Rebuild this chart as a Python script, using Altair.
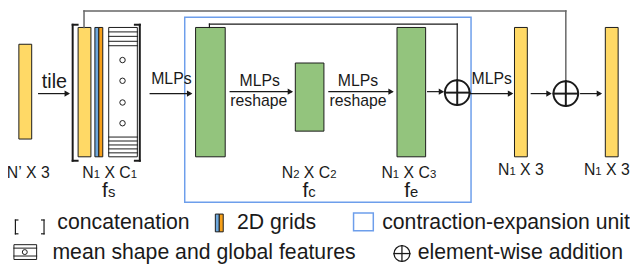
import altair as alt
import pandas as pd

FONT = "Liberation Sans"
YELLOW = "#FFD966"
GREEN = "#93C47D"
BLUE = "#6FA8DC"
ORANGE = "#F6A01A"
BOX = "#6D9EEB"
INK = "#1a1a1a"
GRAY = "#666666"

# ---------------- blocks (filled rectangles) ----------------
block_x0 = [19, 79, 96, 100, 110, 198, 299, 402, 521, 613, 218, 222, 14, 187, 358]
block_x1 = [32, 92, 100, 104, 139, 228, 328, 431, 534, 626, 222, 226, 37, 477, 378]
block_y0 = [43, 26, 26, 26, 26, 26, 62, 26, 26, 26, 215, 215, 246, 11, 214]
block_y1 = [139, 157, 157, 157, 157, 157, 131, 157, 157, 157, 233, 233, 261, 203, 232]
block_fill = [YELLOW, YELLOW, BLUE, ORANGE, "white", GREEN, GREEN, GREEN, YELLOW, YELLOW,
              BLUE, ORANGE, "white", "transparent", "white"]
block_stroke = [INK] * 13 + [BOX, BOX]
block_sw = [1] * 13 + [1.5, 1.5]

# ---------------- line segments ----------------
seg = []  # (x0, y0, x1, y1, color, width)
for yy in [30.5, 35, 40, 44.5]:
    seg.append((110, yy, 139, yy, INK, 1))
for yy in [137, 141, 145, 149, 153]:
    seg.append((110, yy, 139, yy, INK, 1))
# brackets
seg += [(73.5, 22, 73.5, 161, INK, 2), (73.5, 22, 78.5, 22, INK, 2), (73.5, 161, 78.5, 161, INK, 2),
        (141.5, 22, 141.5, 161, INK, 2), (136.5, 22, 141.5, 22, INK, 2), (136.5, 161, 141.5, 161, INK, 2)]
# arrow shafts
arrow_x0 = [39, 152, 233, 333, 433, 476, 538, 588]
arrow_x1 = [71, 195, 297, 399, 450, 520, 559, 610]
arrow_y = [93, 93, 91, 91, 91, 93, 93, 93]
for a, b, c in zip(arrow_x0, arrow_x1, arrow_y):
    seg.append((a, c, b - 2, c, INK, 1.2))
# skip connections
seg += [(212, 26, 212, 21, INK, 1.2), (212, 21, 463, 21, INK, 1.2), (463, 21, 463, 79.5, INK, 1.2)]
seg += [(85, 26, 85, 2, GRAY, 1.5), (85, 2, 573, 2, GRAY, 1.5), (573, 2, 573, 80.5, GRAY, 1.5)]
# plus signs inside circles
plus_cx = [463, 573, 407]
plus_cy = [92, 93, 255]
plus_r = [12.5, 12.5, 8]
for cx, cy, r in zip(plus_cx, plus_cy, plus_r):
    w = 2 if r > 10 else 1.3
    seg.append((cx - r, cy, cx + r, cy, INK, w))
    seg.append((cx, cy - r, cx, cy + r, INK, w))
# legend mean-shape icon lines
seg += [(14, 249.5, 37, 249.5, INK, 1), (14, 257.5, 37, 257.5, INK, 1)]
# legend parentheses
seg += [(15.5, 221, 15.5, 235, INK, 1.2), (15.5, 221, 18, 221, INK, 1.2), (15.5, 235, 18, 235, INK, 1.2),
        (44.5, 221, 44.5, 235, INK, 1.2), (42, 221, 44.5, 221, INK, 1.2), (42, 235, 44.5, 235, INK, 1.2)]

# ---------------- circles ----------------
circ_x = [124, 124, 124, 124, 25] + plus_cx
circ_y = [59, 80, 102, 123, 253.5] + plus_cy
circ_d = [5.5, 5.5, 5.5, 5.5, 5] + [2 * r for r in plus_r]
circ_w = [1, 1, 1, 1, 1, 2, 2, 1.3]

# ---------------- texts ----------------
W = {"t": 278, "i": 222, "l": 222, "e": 556, "M": 833, "L": 556, "P": 667, "s": 500, "r": 333,
     "h": 556, "a": 556, "p": 556, "N": 722, "X": 667, "C": 722, " ": 278, "1": 556, "2": 556,
     "3": 556, "’": 222, "f": 278, "c": 500}


def width(t, size):
    return sum(W.get(ch, 556) for ch in t) * size / 1000.0


BIG, SUB = 16, 11.5
labels = [
    ([("tile", 20)], 55, 87),
    ([("MLPs", 16)], 173.5, 83),
    ([("MLPs", 16)], 263, 85),
    ([("reshape", 16)], 262, 106),
    ([("MLPs", 16)], 362.5, 85),
    ([("reshape", 16)], 362.5, 106),
    ([("MLPs", 16)], 498, 83),
    ([("N’", BIG), (" X", BIG), (" 3", BIG)], 28.5, 178),
    ([("N", BIG), ("1", SUB), (" X", BIG), (" C", BIG), ("1", SUB)], 111, 178),
    ([("f", 21), ("s", 15)], 110, 198),
    ([("N", BIG), ("2", SUB), (" X", BIG), (" C", BIG), ("2", SUB)], 313, 178),
    ([("f", 21), ("c", 15)], 313, 198),
    ([("N", BIG), ("1", SUB), (" X", BIG), (" C", BIG), ("3", SUB)], 414, 178),
    ([("f", 21), ("e", 15)], 416.5, 198),
    ([("N", BIG), ("1", SUB), (" X", BIG), (" 3", BIG)], 527.5, 175),
    ([("N", BIG), ("1", SUB), (" X", BIG), (" 3", BIG)], 614.5, 175),
]
LEG = 21.5
legend_text = ["concatenation", "2D grids", "contraction-expansion unit",
               "mean shape and global features", "element-wise addition"]
legend_x = [58, 240, 387, 53, 423]
legend_y = [230.5, 230.5, 230.5, 261, 261]

txt_rows = []
for pieces, cx, by in labels:
    total = sum(width(t, s) for t, s in pieces)
    x = cx - total / 2
    for t, s in pieces:
        lead = len(t) - len(t.lstrip(" "))
        x += width(" " * lead, s)
        core = t.strip(" ")
        txt_rows.append({"x": x, "y": by, "text": core, "size": s})
        x += width(core, s)
for t, x, y in zip(legend_text, legend_x, legend_y):
    txt_rows.append({"x": x, "y": y, "text": t, "size": LEG})

# ---------------- data frames ----------------
rects = pd.DataFrame({"x": block_x0, "x2": block_x1, "y": block_y0, "y2": block_y1,
                      "fill": block_fill, "stroke": block_stroke, "sw": block_sw})
segs = pd.DataFrame(seg, columns=["x", "y", "x2", "y2", "color", "sw"])
circs = pd.DataFrame({"x": circ_x, "y": circ_y, "size": [d * d for d in circ_d], "sw": circ_w})
heads = pd.DataFrame({"x": [b - 3 for b in arrow_x1], "y": arrow_y})
texts = pd.DataFrame(txt_rows)

xs = alt.Scale(domain=[8, 638], range=[0, 630], zero=False, nice=False)
ys = alt.Scale(domain=[0, 26, 275], range=[0, 18, 267], zero=False, nice=False)


def X(f="x"):
    return alt.X(f + ":Q", scale=xs, axis=None)


def Y(f="y"):
    return alt.Y(f + ":Q", scale=ys, axis=None)


rect_layer = alt.Chart(rects).mark_rect().encode(
    x=X(), x2="x2", y=Y(), y2="y2",
    fill=alt.Fill("fill:N", scale=None),
    stroke=alt.Stroke("stroke:N", scale=None),
    strokeWidth=alt.StrokeWidth("sw:Q", scale=None),
)
rule_layer = alt.Chart(segs).mark_rule(strokeCap="square").encode(
    x=X(), x2="x2", y=Y(), y2="y2",
    color=alt.Color("color:N", scale=None),
    strokeWidth=alt.StrokeWidth("sw:Q", scale=None),
)
circ_layer = alt.Chart(circs).mark_point(shape="circle", filled=False, color=INK, opacity=1).encode(
    x=X(), y=Y(),
    size=alt.Size("size:Q", scale=None),
    strokeWidth=alt.StrokeWidth("sw:Q", scale=None),
)
head_layer = alt.Chart(heads).mark_point(shape="triangle-right", filled=True, color=INK,
                                          opacity=1, size=40).encode(x=X(), y=Y())
text_layer = alt.Chart(texts).mark_text(align="left", baseline="alphabetic", font=FONT,
                                        color=INK).encode(
    x=X(), y=Y(), text="text:N", size=alt.Size("size:Q", scale=None),
)

chart = alt.layer(rect_layer, rule_layer, circ_layer, head_layer, text_layer).properties(
    width=630, height=267, padding=0,
    autosize=alt.AutoSizeParams(type="none"),
    background="white",
).configure_view(stroke=None)

chart.save("out.html", embed_options={"renderer": "svg", "actions": False})
